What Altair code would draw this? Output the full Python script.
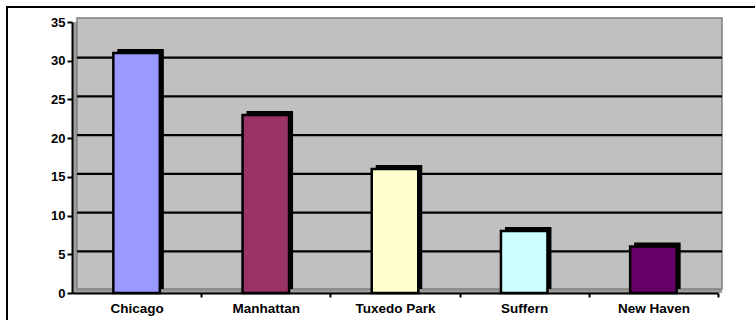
import altair as alt
import pandas as pd

# Visits by location
cities = ["Chicago", "Manhattan", "Tuxedo Park", "Suffern", "New Haven"]
counts = [31, 23, 16, 8, 6]
colors = ["#9999FF", "#993366", "#FFFFCC", "#CCFFFF", "#660066"]
grid_values = [5, 10, 15, 20, 25, 30]
y_ticks = [0, 5, 10, 15, 20, 25, 30, 35]

W, H = 646, 271
STEP = W / len(cities)
DEPTH = 4
FONT = "Liberation Sans"

df = pd.DataFrame({"city": cities, "count": counts})
grid_df = pd.DataFrame({"v": grid_values})

x_scale = alt.Scale(domain=cities, paddingInner=0, paddingOuter=0)
y_scale = alt.Scale(domain=[0, 35], nice=False)
color_scale = alt.Scale(domain=cities, range=colors)
bar_w = alt.RelativeBandSize(0.36)

x_axis = alt.Axis(
    labelAngle=0, labelFont=FONT, labelFontSize=13.5, labelFontWeight="bold",
    labelColor="black", domainColor="black", domainWidth=2,
    tickColor="black", tickWidth=2, tickSize=4,
    tickOffset=STEP / 2, labelOffset=-STEP / 2,
    labelPadding=4, zindex=1,
)
y_axis = alt.Axis(
    values=y_ticks, grid=False, labelOverlap=False,
    labelFont=FONT, labelFontSize=13, labelFontWeight="bold",
    labelColor="black", domainColor="black", domainWidth=2,
    tickColor="black", tickWidth=2, tickSize=5, labelPadding=2, zindex=1,
)

one = pd.DataFrame({"k": [0]})

# outer chart frame
frame = alt.Chart(one).mark_rect(
    fillOpacity=0, stroke="black", strokeWidth=2, clip=False
).encode(
    x=alt.value(-65), x2=alt.value(W + 60),
    y=alt.value(-15), y2=alt.value(H + 60),
)

# 3-D walls: side wall, floor, back wall
side = alt.Chart(one).mark_rect(fill="#9c9c9c", clip=False).encode(
    x=alt.value(1), x2=alt.value(DEPTH + 1), y=alt.value(0), y2=alt.value(H)
)
floor = alt.Chart(one).mark_rect(fill="#9c9c9c", clip=False).encode(
    x=alt.value(0), x2=alt.value(W + DEPTH), y=alt.value(H - DEPTH), y2=alt.value(H)
)
back = alt.Chart(one).mark_rect(
    fill="#C0C0C0", stroke="#808080", strokeWidth=1.5, clip=False
).encode(
    x=alt.value(DEPTH + 1), x2=alt.value(W + DEPTH),
    y=alt.value(-DEPTH), y2=alt.value(H - DEPTH),
)

grid = alt.Chart(grid_df).mark_rule(
    color="black", strokeWidth=2.2, yOffset=-3
).encode(
    y=alt.Y("v:Q", scale=y_scale, axis=y_axis, title=None),
    x=alt.value(DEPTH + 1), x2=alt.value(W + DEPTH),
)

# bar depth (top and right faces)
shade = alt.Chart(df).mark_bar(
    color="black", width=bar_w, xOffset=DEPTH, yOffset=-DEPTH, y2Offset=-DEPTH
).encode(
    x=alt.X("city:N", scale=x_scale, sort=cities, axis=x_axis, title=None),
    y=alt.Y("count:Q", scale=y_scale, axis=y_axis, title=None),
)

bars = alt.Chart(df).mark_bar(
    stroke="black", strokeWidth=2.5, width=bar_w
).encode(
    x=alt.X("city:N", scale=x_scale, sort=cities, axis=x_axis, title=None),
    y=alt.Y("count:Q", scale=y_scale, axis=y_axis, title=None),
    color=alt.Color("city:N", scale=color_scale, legend=None),
)

chart = alt.layer(frame, side, floor, back, grid, shade, bars).properties(
    width=W, height=H,
    autosize=alt.AutoSizeParams(type="none"),
    padding={"left": 72, "top": 22, "right": 37, "bottom": 27},
    background="white",
).configure_view(strokeWidth=0)

chart.save("out.html", embed_options={"renderer": "svg", "actions": False})
